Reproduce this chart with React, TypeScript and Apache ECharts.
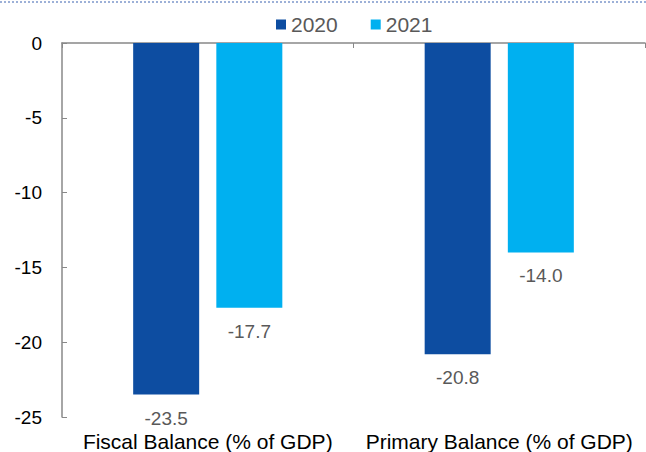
import React, { useEffect, useRef } from "react";
import * as echarts from "echarts";

const categories = ["Fiscal Balance (% of GDP)", "Primary Balance (% of GDP)"];
const values2020 = [-23.5, -20.8];
const values2021 = [-17.7, -14.0];
const seriesNames = ["2020", "2021"];
const yTicks = { min: -25, max: 0, interval: 5 };

export default function App() {
  const ref = useRef<HTMLDivElement>(null);
  useEffect(() => {
    if (!ref.current) return;
    const chart = echarts.init(ref.current, null, { renderer: "svg" });
    const font = "Liberation Sans, Arial, sans-serif";
    const labelCfg = {
      show: true,
      position: "bottom",
      distance: 14,
      color: "#595959",
      fontSize: 19,
      fontFamily: font,
      formatter: (p: any) => Number(p.value).toFixed(1),
    };
    chart.setOption({
      animation: false,
      backgroundColor: "#ffffff",
      graphic: [
        {
          type: "line",
          shape: { x1: 0, y1: 2, x2: 646, y2: 2 },
          style: { stroke: "#3a62b0", lineWidth: 1, lineDash: [2, 2] },
        },
      ],
      legend: {
        data: seriesNames,
        top: 14,
        left: 276,
        padding: 0,
        itemWidth: 10,
        itemHeight: 10,
        itemGap: 33,
        icon: "rect",
        textStyle: { color: "#595959", fontSize: 21, fontFamily: font, padding: [0, 0, 0, 0] },
      },
      grid: { left: 62, right: 1, top: 43, bottom: 35 },
      xAxis: [
        {
          type: "category",
          data: categories,
          position: "top",
          axisLine: { show: true, lineStyle: { color: "#888888", width: 1.5 } },
          axisTick: { show: true, inside: true, length: 5, lineStyle: { color: "#888888" } },
          axisLabel: { show: false },
        },
        {
          type: "category",
          data: categories,
          position: "bottom",
          axisLine: { show: false },
          axisTick: { show: false },
          axisLabel: {
            show: true,
            interval: 0,
            color: "#000000",
            fontSize: 21,
            fontFamily: font,
            margin: 14,
          },
        },
      ],
      yAxis: {
        type: "value",
        min: yTicks.min,
        max: yTicks.max,
        interval: yTicks.interval,
        axisLine: { show: true, lineStyle: { color: "#888888", width: 1.5 } },
        axisTick: { show: true, inside: true, length: 5, lineStyle: { color: "#888888" } },
        axisLabel: { color: "#000000", fontSize: 19, fontFamily: font, margin: 20 },
        splitLine: { show: false },
      },
      series: [
        {
          name: seriesNames[0],
          type: "bar",
          xAxisIndex: 0,
          data: values2020,
          barWidth: 66,
          barGap: "26%",
          itemStyle: { color: "#0D4DA1" },
          label: labelCfg,
        },
        {
          name: seriesNames[1],
          type: "bar",
          xAxisIndex: 0,
          data: values2021,
          barWidth: 66,
          barGap: "26%",
          itemStyle: { color: "#00B0F0" },
          label: labelCfg,
        },
      ],
    });
    return () => chart.dispose();
  }, []);
  return (
    <div
      ref={ref}
      style={{ position: "fixed", left: 0, top: 0, width: 646, height: 452 }}
    />
  );
}
